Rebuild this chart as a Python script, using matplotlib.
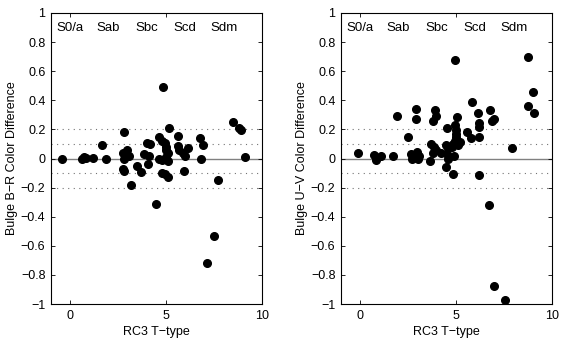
import matplotlib
matplotlib.use("Agg")
import matplotlib.pyplot as plt

plt.rcParams['font.family'] = ['Liberation Sans', 'DejaVu Sans']
plt.rcParams['font.size'] = 9

# RC3 T-type vs bulge colour differences
t_br = [-0.4, 0.6, 0.7, 0.8, 1.2, 1.65, 1.85, 2.8, 2.75, 2.95, 3.05, 2.8, 2.75, 2.8,
        3.15, 3.5, 3.7, 3.85, 4.1, 4.0, 4.15, 4.05, 4.65, 4.8, 4.95, 4.65, 4.8, 5.0,
        5.0, 5.1, 5.0, 5.1, 4.8, 4.95, 5.1, 4.85, 5.15, 4.5, 5.6, 5.6, 5.65, 5.9,
        6.0, 6.15, 5.95, 6.75, 6.95, 6.8, 7.7, 7.5, 7.15, 8.5, 8.8, 8.9, 9.1]
d_br = [0.0, 0.0, 0.01, 0.005, 0.005, 0.09, 0.0, 0.18, 0.04, 0.06, 0.02, -0.005, -0.075, -0.085,
        -0.18, -0.05, -0.095, 0.03, 0.02, 0.11, 0.10, -0.035, 0.145, 0.12, 0.105, 0.0, -0.01, 0.08,
        0.06, 0.04, 0.01, -0.02, -0.1, -0.105, -0.13, 0.49, 0.21, -0.315, 0.155, 0.085, 0.06, 0.04,
        0.02, 0.075, -0.085, 0.14, 0.09, 0.0, -0.145, -0.53, -0.72, 0.25, 0.21, 0.195, 0.01]

t_uv = [-0.1, 0.7, 0.8, 0.85, 1.1, 1.7, 1.9, 2.5, 2.9, 2.9, 2.65, 2.7, 2.8, 2.95, 3.05, 3.0,
        3.9, 3.95, 3.8, 3.7, 3.85, 3.8, 4.2, 3.65, 3.95, 4.55, 4.5, 4.6, 4.55, 4.6, 4.5,
        4.9, 4.85, 4.95, 5.05, 4.95, 5.0, 5.0, 5.0, 4.95, 4.85, 4.8, 5.2, 5.1, 5.55, 5.85,
        5.8, 6.15, 6.2, 6.2, 6.2, 6.2, 6.7, 6.75, 6.85, 7.0, 7.0, 7.55, 7.9, 8.75, 9.0, 8.75, 9.05]
d_uv = [0.04, 0.025, -0.01, 0.005, 0.015, 0.02, 0.29, 0.145, 0.34, 0.27, 0.03, 0.0, 0.01, 0.045, 0.015, 0.0,
        0.335, 0.295, 0.26, 0.1, 0.08, 0.035, 0.04, -0.015, 0.06, 0.21, 0.09, 0.07, 0.03, 0.0, -0.055,
        0.02, -0.105, 0.68, 0.285, 0.23, 0.195, 0.17, 0.145, 0.12, 0.1, 0.08, 0.115, 0.09, 0.185, 0.39,
        0.14, 0.31, 0.245, 0.215, 0.145, -0.11, -0.32, 0.335, 0.26, 0.27, -0.875, -0.975, 0.07, 0.7, 0.46, 0.36, 0.31]

morph_labels = ['S0/a', 'Sab', 'Sbc', 'Scd', 'Sdm']
morph_t = [0, 2, 4, 6, 8]

fig = plt.figure(figsize=(5.64, 3.42), dpi=100)
ax1 = fig.add_axes([0.0904, 0.111, 0.374, 0.851])
ax2 = fig.add_axes([0.6046, 0.111, 0.374, 0.851])


def draw_panel(ax, t, d, ylabel):
    ax.axhline(0, color='0.5', lw=1.0, zorder=1)
    for y in [-0.2, -0.1, 0.1, 0.2]:
        ax.axhline(y, color='0.45', lw=0.8, ls=(0, (1, 4)), zorder=1)
    ax.plot(t, d, 'o', color='black', ms=5.5, mec='black', zorder=3)
    for lab, x in zip(morph_labels, morph_t):
        ax.text(x, 0.9, lab, ha='center', va='center', fontsize=9.5)
    ax.set_xlim(-1, 10)
    ax.set_ylim(-1, 1)
    ax.set_xticks([0, 5, 10])
    ax.set_yticks([-1, -0.8, -0.6, -0.4, -0.2, 0, 0.2, 0.4, 0.6, 0.8, 1])
    ax.set_yticklabels(['\u22121', '\u22120.8', '\u22120.6', '\u22120.4', '\u22120.2',
                        '0', '0.2', '0.4', '0.6', '0.8', '1'])
    ax.tick_params(direction='in', length=3, width=0.6, top=True, right=True,
                   labelsize=9, pad=4)
    for sp in ax.spines.values():
        sp.set_linewidth(0.8)
    ax.set_xlabel('RC3 T\u2212type', fontsize=9, labelpad=3)
    ax.set_ylabel(ylabel, fontsize=9, labelpad=2)


draw_panel(ax1, t_br, d_br, 'Bulge B\u2212R Color Difference')
draw_panel(ax2, t_uv, d_uv, 'Bulge U\u2212V Color Difference')

fig.savefig('out.png', dpi=100)
